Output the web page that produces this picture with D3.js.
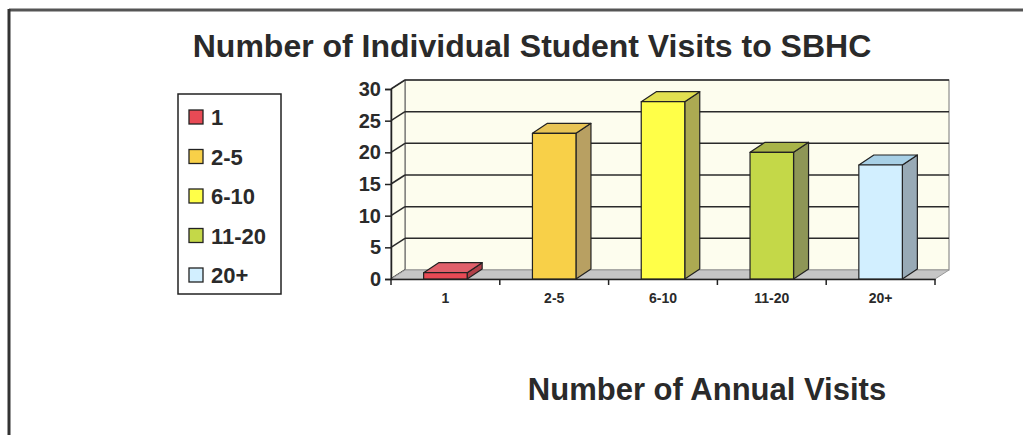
<!DOCTYPE html>
<html>
<head>
<meta charset="utf-8">
<script src="https://cdn.jsdelivr.net/npm/d3@7"></script>
<style>
  body { margin: 0; background: #fff; }
  text { font-family: "Liberation Sans", Arial, sans-serif; font-weight: bold; fill: #2a2a2a; }
</style>
</head>
<body>
<div id="chart"></div>
<script>
const categories = ['1', '2-5', '6-10', '11-20', '20+'];
const visits = [1, 23, 28, 20, 18];
const yTicks = [0, 5, 10, 15, 20, 25, 30];

// front / top / side shades for each bar
const colors = [
  { front: '#e84a55', top: '#e0606a', side: '#b04048' },
  { front: '#f8d048', top: '#e8c455', side: '#b8a062' },
  { front: '#ffff48', top: '#e2e050', side: '#acaa52' },
  { front: '#c4d848', top: '#a8b448', side: '#8e9656' },
  { front: '#d2efff', top: '#a8d0e6', side: '#98aab6' }
];

const width = 1023, height = 435;
const dx = 14, dy = -9;     // wall depth
const bx = 15, by = -10;    // bar depth

const svg = d3.select('#chart').append('svg')
  .attr('width', width)
  .attr('height', height);

// page frame
svg.append('line').attr('x1', 9).attr('x2', width).attr('y1', 10).attr('y2', 10)
  .attr('stroke', '#555').attr('stroke-width', 3);
svg.append('line').attr('x1', 9).attr('x2', 9).attr('y1', 9).attr('y2', height)
  .attr('stroke', '#333').attr('stroke-width', 3);

const x = d3.scaleBand()
  .domain(categories)
  .range([391, 935])
  .paddingInner(0.6)
  .paddingOuter(0.3);

const y = d3.scaleLinear()
  .domain([0, 30])
  .range([279, 89]);

const x0 = x.range()[0], x1 = x.range()[1];
const yTop = y(30), yBot = y(0);

// back wall
svg.append('rect')
  .attr('x', x0 + dx).attr('y', yTop + dy)
  .attr('width', x1 - x0).attr('height', yBot - yTop)
  .attr('fill', '#fdfdee').attr('stroke', '#777').attr('stroke-width', 1);

// side wall
svg.append('path')
  .attr('d', `M${x0},${yBot}L${x0},${yTop}L${x0 + dx},${yTop + dy}L${x0 + dx},${yBot + dy}Z`)
  .attr('fill', '#fdfdee').attr('stroke', '#555');

// gridlines on back wall and side wall
const grid = svg.append('g').attr('stroke', '#2a2a2a').attr('stroke-width', 1.5).attr('fill', 'none');
grid.selectAll('line.back')
  .data(yTicks.filter(d => d > 0))
  .join('line')
  .attr('class', 'back')
  .attr('x1', x0 + dx).attr('x2', x1 + dx)
  .attr('y1', d => y(d) + dy).attr('y2', d => y(d) + dy);
grid.selectAll('line.side')
  .data(yTicks)
  .join('line')
  .attr('class', 'side')
  .attr('x1', x0).attr('x2', x0 + dx)
  .attr('y1', d => y(d)).attr('y2', d => y(d) + dy);

// floor
svg.append('path')
  .attr('d', `M${x0},${yBot}L${x1},${yBot}L${x1 + dx},${yBot + dy}L${x0 + dx},${yBot + dy}Z`)
  .attr('fill', '#c6c6c6').attr('stroke', '#999').attr('stroke-width', 1);

// bars
const bars = svg.append('g')
  .selectAll('g')
  .data(visits)
  .join('g')
  .attr('stroke', '#222')
  .attr('stroke-width', 1.2)
  .attr('stroke-linejoin', 'round');

bars.append('path')
  .attr('fill', (d, i) => colors[i].side)
  .attr('d', (d, i) => {
    const r = x(categories[i]) + x.bandwidth();
    return `M${r},${y(d)}L${r + bx},${y(d) + by}L${r + bx},${y(0) + by}L${r},${y(0)}Z`;
  });
bars.append('path')
  .attr('fill', (d, i) => colors[i].top)
  .attr('d', (d, i) => {
    const l = x(categories[i]), r = l + x.bandwidth();
    return `M${l},${y(d)}L${l + bx},${y(d) + by}L${r + bx},${y(d) + by}L${r},${y(d)}Z`;
  });
bars.append('rect')
  .attr('fill', (d, i) => colors[i].front)
  .attr('x', (d, i) => x(categories[i]))
  .attr('y', d => y(d))
  .attr('width', x.bandwidth())
  .attr('height', d => y(0) - y(d));

// y axis
const yAxis = svg.append('g')
  .attr('transform', `translate(${x0},0)`)
  .call(d3.axisLeft(y).tickValues(yTicks).tickSize(6).tickPadding(4));
yAxis.select('.domain').attr('stroke', '#222').attr('stroke-width', 1.5);
yAxis.selectAll('.tick line').attr('stroke', '#222').attr('stroke-width', 1.5);
yAxis.selectAll('text').attr('font-size', 20).attr('fill', '#2a2a2a');

// x axis
const xAxis = svg.append('g')
  .attr('transform', `translate(0,${yBot})`)
  .call(d3.axisBottom(x).tickSize(0).tickPadding(14));
xAxis.select('.domain').attr('stroke', '#222').attr('stroke-width', 1.5);
xAxis.selectAll('text').attr('font-size', 14).attr('fill', '#2a2a2a');
xAxis.selectAll('line.sep')
  .data(d3.range(categories.length + 1))
  .join('line')
  .attr('class', 'sep')
  .attr('x1', i => x0 + i * x.step())
  .attr('x2', i => x0 + i * x.step())
  .attr('y1', 0).attr('y2', 6)
  .attr('stroke', '#222').attr('stroke-width', 1.5);

// titles
svg.append('text')
  .attr('x', 532).attr('y', 57)
  .attr('text-anchor', 'middle')
  .attr('font-size', 32)
  .attr('fill', '#383838')
  .text('Number of Individual Student Visits to SBHC');

svg.append('text')
  .attr('x', 707).attr('y', 400)
  .attr('text-anchor', 'middle')
  .attr('font-size', 31)
  .attr('fill', '#333')
  .text('Number of Annual Visits');

// legend
const legend = svg.append('g');
legend.append('rect')
  .attr('x', 178).attr('y', 94).attr('width', 103).attr('height', 200)
  .attr('fill', '#fff').attr('stroke', '#222').attr('stroke-width', 1.5);
const items = legend.selectAll('g.item')
  .data(categories)
  .join('g')
  .attr('class', 'item')
  .attr('transform', (d, i) => `translate(189,${117 + i * 39.5})`);
items.append('rect')
  .attr('x', 0).attr('y', -7).attr('width', 14).attr('height', 14)
  .attr('fill', (d, i) => colors[i].front)
  .attr('stroke', '#222').attr('stroke-width', 1.3);
items.append('text')
  .attr('x', 22).attr('y', 8)
  .attr('font-size', 22)
  .text(d => d);
</script>
</body>
</html>
